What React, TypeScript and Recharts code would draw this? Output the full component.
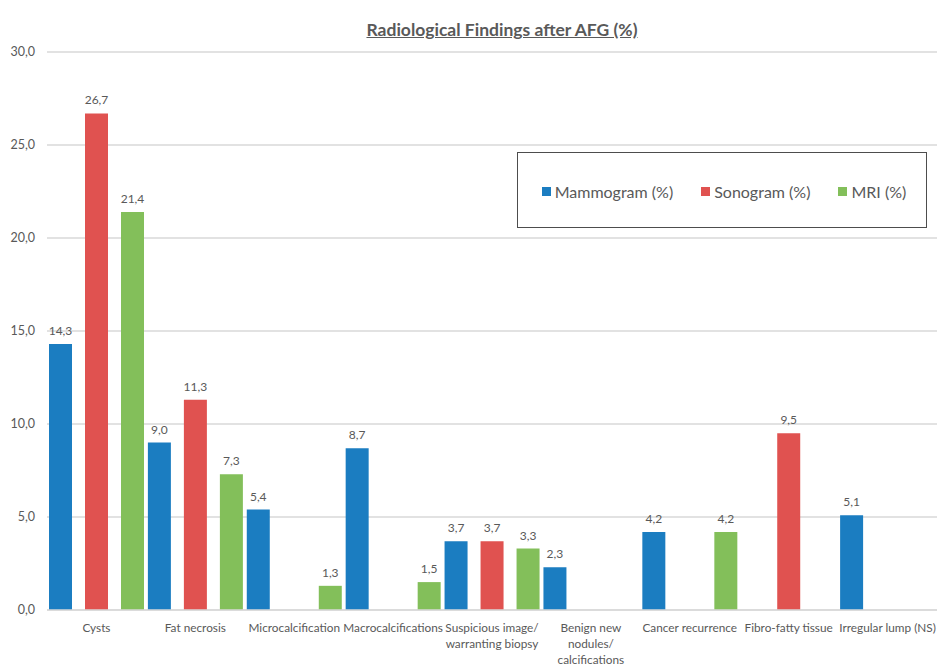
import React from 'react';
import {
  BarChart,
  Bar,
  XAxis,
  YAxis,
  CartesianGrid,
  LabelList,
} from 'recharts';

const categories = [
  'Cysts',
  'Fat necrosis',
  'Microcalcification',
  'Macrocalcifications',
  'Suspicious image/ warranting biopsy',
  'Benign new nodules/ calcifications',
  'Cancer recurrence',
  'Fibro-fatty tissue',
  'Irregular lump (NS)',
];

// wrapped tick labels, one entry per category
const tickLines: string[][] = [
  ['Cysts'],
  ['Fat necrosis'],
  ['Microcalcification'],
  ['Macrocalcifications'],
  ['Suspicious image/', 'warranting biopsy'],
  ['Benign new', 'nodules/', 'calcifications'],
  ['Cancer recurrence'],
  ['Fibro-fatty tissue'],
  ['Irregular lump (NS)'],
];

const mammogram = [14.3, 9.0, 5.4, 8.7, 3.7, 2.3, 4.2, null, 5.1];
const sonogram = [26.7, 11.3, null, null, 3.7, null, null, 9.5, null];
const mri = [21.4, 7.3, 1.3, 1.5, 3.3, null, 4.2, null, null];

const yTicks = [0, 5, 10, 15, 20, 25, 30];

const series = [
  { key: 'mammogram', name: 'Mammogram (%)', color: '#1b7dc1' },
  { key: 'sonogram', name: 'Sonogram (%)', color: '#e05250' },
  { key: 'mri', name: 'MRI (%)', color: '#83bf5a' },
];

const data = categories.map((name, i) => ({
  name,
  mammogram: mammogram[i],
  sonogram: sonogram[i],
  mri: mri[i],
}));

const FONT = 'Lato, "Open Sans", sans-serif';
const TEXT = '#595959';

const fmt = (v: any) =>
  v === null || v === undefined ? '' : Number(v).toFixed(1).replace('.', ',');

const CategoryTick = (props: any) => {
  const { x, y, index } = props;
  const lines = tickLines[index] || [];
  return (
    <text x={x} y={y} textAnchor="middle" fill={TEXT} fontSize={11.8} fontFamily={FONT}>
      {lines.map((l, i) => (
        <tspan key={i} x={x} dy={i === 0 ? 14 : 16}>
          {l}
        </tspan>
      ))}
    </text>
  );
};

// boxed legend sitting over the upper right of the plot
const LegendBox = () => (
  <div
    style={{
      position: 'absolute',
      left: 517,
      top: 152,
      width: 410,
      height: 76,
      border: '1px solid #4d4d4d',
      background: '#fff',
      display: 'flex',
      alignItems: 'center',
      justifyContent: 'center',
      gap: 28,
      fontFamily: FONT,
      fontSize: 16,
      color: TEXT,
      paddingTop: 2,
      paddingLeft: 4,
      boxSizing: 'border-box',
    }}
  >
    {series.map((s) => (
      <span key={s.key} style={{ display: 'flex', alignItems: 'center' }}>
        <span
          style={{
            width: 9,
            height: 9,
            background: s.color,
            display: 'inline-block',
            marginRight: 4,
          }}
        />
        {s.name}
      </span>
    ))}
  </div>
);

const App = () => {
  return (
    <div style={{ position: 'absolute', left: 0, top: 0, width: 944, height: 668, background: '#fff' }}>
      <div
        style={{
          position: 'absolute',
          left: 0,
          width: 944,
          paddingLeft: 60,
          top: 19,
          textAlign: 'center',
          fontFamily: FONT,
          fontSize: 17.5,
          fontWeight: 700,
          color: TEXT,
          textDecoration: 'underline',
          zIndex: 2,
          boxSizing: 'border-box',
        }}
      >
        Radiological Findings after AFG (%)
      </div>
      <BarChart
        width={944}
        height={668}
        data={data}
        margin={{ top: 52, right: 7, left: 0, bottom: 0 }}
        barSize={23}
        barGap={13}
      >
        <CartesianGrid vertical={false} stroke="#d9d9d9" strokeWidth={1.5} />
        <XAxis
          dataKey="name"
          axisLine={{ stroke: '#d9d9d9', strokeWidth: 1.5 }}
          tickLine={false}
          interval={0}
          tick={<CategoryTick />}
          height={58}
        />
        <YAxis
          width={47}
          domain={[0, 30]}
          ticks={yTicks}
          axisLine={false}
          tickLine={false}
          tickSize={0}
          tickMargin={12}
          tickFormatter={fmt}
          tick={{ fill: TEXT, fontSize: 12.5, fontFamily: FONT }}
        />
        {series.map((s) => (
          <Bar key={s.key} dataKey={s.key} name={s.name} fill={s.color} isAnimationActive={false}>
            <LabelList
              dataKey={s.key}
              position="top"
              offset={9}
              formatter={fmt}
              fill={TEXT}
              fontSize={12}
              fontFamily={FONT}
            />
          </Bar>
        ))}
      </BarChart>
      <LegendBox />
    </div>
  );
};

export default App;
